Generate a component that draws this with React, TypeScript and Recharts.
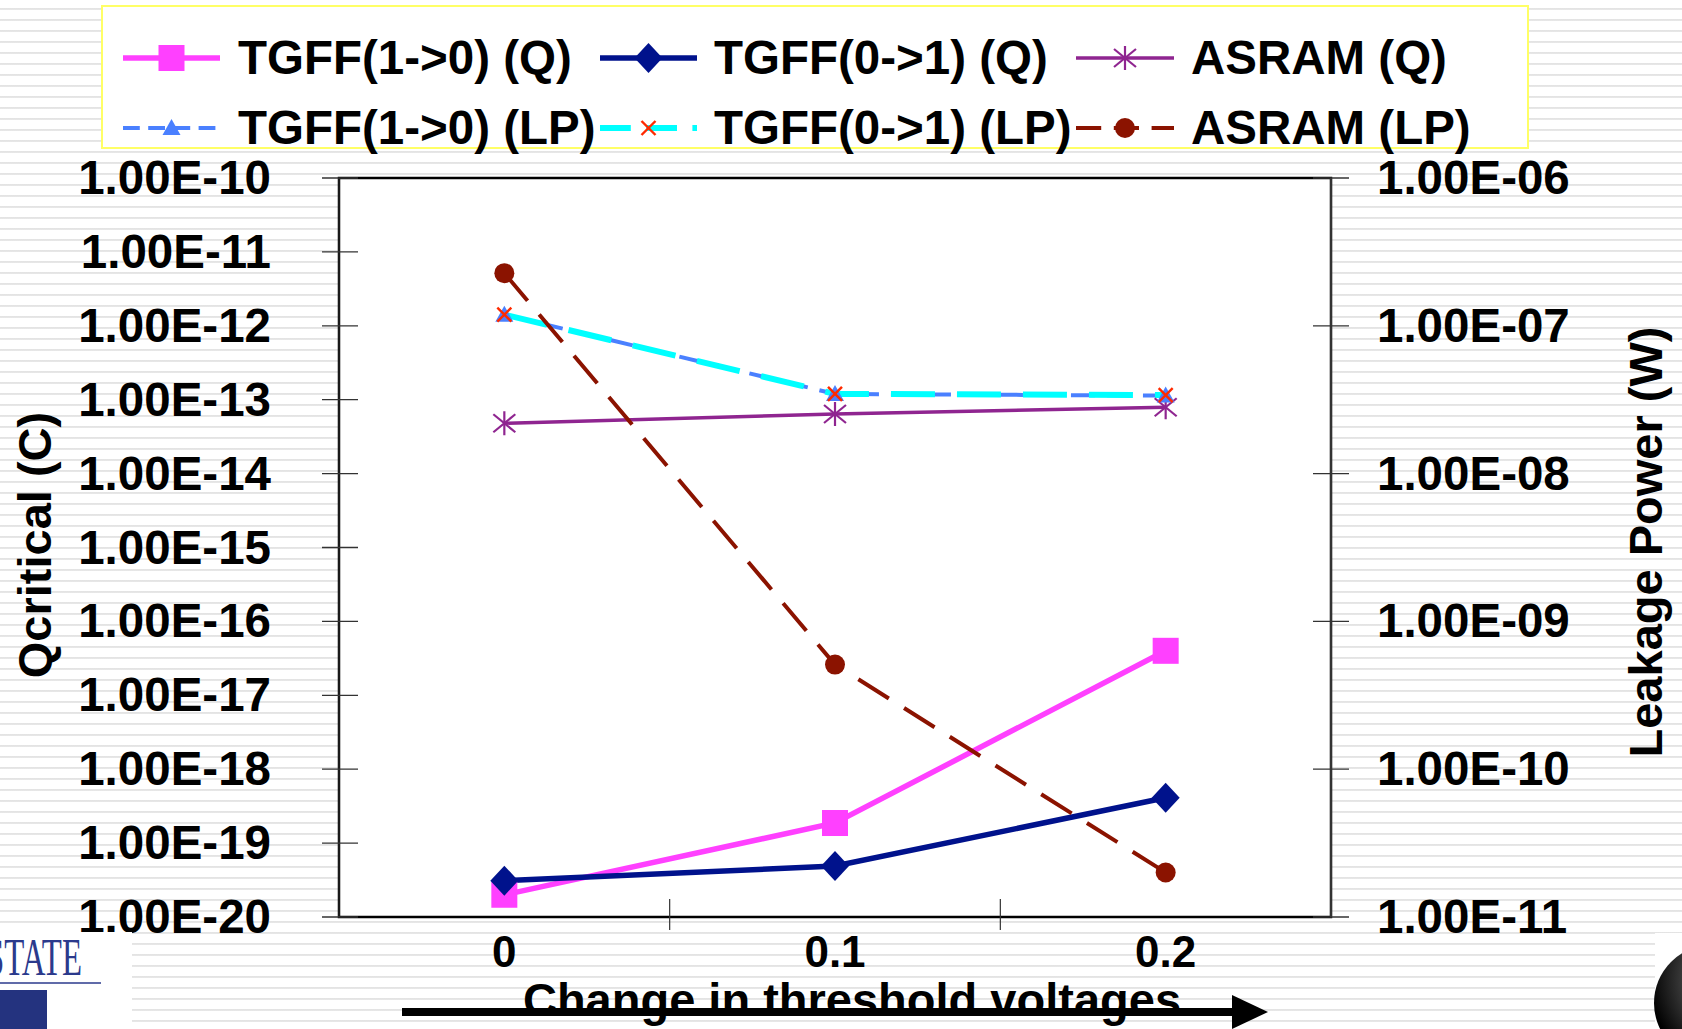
import React from 'react';
import { ComposedChart, Line, XAxis, YAxis, ReferenceArea } from 'recharts';

const FONT = '"Liberation Sans", Arial, Helvetica, sans-serif';

// ---- data ----
const categories = [0, 0.1, 0.2];
const categoryLabels = ['0', '0.1', '0.2'];
const boundaryTicks = [0.05, 0.15];
const qTicks = [1e-20, 1e-19, 1e-18, 1e-17, 1e-16, 1e-15, 1e-14, 1e-13, 1e-12, 1e-11, 1e-10];
const lpTicks = [1e-11, 1e-10, 1e-9, 1e-8, 1e-7, 1e-6];

const tgff10Q = [2.0e-20, 1.87e-19, 4.0e-17];
const tgff01Q = [3.1e-20, 4.9e-20, 4.1e-19];
const asramQ = [4.8e-14, 6.4e-14, 7.9e-14];
const tgff10LP = [1.19e-7, 3.46e-8, 3.37e-8];
const tgff01LP = [1.19e-7, 3.46e-8, 3.4e-8];
const asramLP = [2.27e-7, 5.1e-10, 2.0e-11];

const rows = categories.map((x, i) => ({
  x,
  tgff10Q: tgff10Q[i],
  tgff01Q: tgff01Q[i],
  asramQ: asramQ[i],
  tgff10LP: tgff10LP[i],
  tgff01LP: tgff01LP[i],
  asramLP: asramLP[i],
}));

type Kind = 'square' | 'diamond' | 'asterisk' | 'triangle' | 'cross' | 'circle';

const series = [
  { key: 'tgff10Q', name: 'TGFF(1->0) (Q)', axis: 'q', color: '#ff40ff', width: 5.5, dash: undefined, marker: 'square' as Kind, markerColor: '#ff40ff' },
  { key: 'tgff01Q', name: 'TGFF(0->1) (Q)', axis: 'q', color: '#00128c', width: 5.5, dash: undefined, marker: 'diamond' as Kind, markerColor: '#00128c' },
  { key: 'asramQ', name: 'ASRAM (Q)', axis: 'q', color: '#8f2590', width: 3.5, dash: undefined, marker: 'asterisk' as Kind, markerColor: '#8f2590' },
  { key: 'tgff10LP', name: 'TGFF(1->0) (LP)', axis: 'lp', color: '#4a80ff', width: 4, dash: '24 12', marker: 'triangle' as Kind, markerColor: '#4a80ff' },
  { key: 'tgff01LP', name: 'TGFF(0->1) (LP)', axis: 'lp', color: '#00ffff', width: 6, dash: '44 22', marker: 'cross' as Kind, markerColor: '#ff2a00' },
  { key: 'asramLP', name: 'ASRAM (LP)', axis: 'lp', color: '#8b1300', width: 4, dash: '36 18', marker: 'circle' as Kind, markerColor: '#8b1300' },
];

const sci = (v: number) => {
  const [m, e] = v.toExponential(2).split('e');
  const n = parseInt(e, 10);
  return `${m}E${n < 0 ? '-' : '+'}${String(Math.abs(n)).padStart(2, '0')}`;
};

function Marker({ kind, cx, cy, color }: { kind: Kind; cx: number; cy: number; color: string }) {
  if (cx == null || cy == null || isNaN(cx) || isNaN(cy)) return <g />;
  switch (kind) {
    case 'square':
      return <rect x={cx - 13} y={cy - 13} width={26} height={26} fill={color} />;
    case 'diamond':
      return <polygon points={`${cx},${cy - 15} ${cx + 14},${cy} ${cx},${cy + 15} ${cx - 14},${cy}`} fill={color} />;
    case 'asterisk':
      return (
        <g stroke={color} strokeWidth={2.2}>
          <line x1={cx} y1={cy - 12} x2={cx} y2={cy + 12} />
          <line x1={cx - 11} y1={cy - 9} x2={cx + 11} y2={cy + 9} />
          <line x1={cx - 11} y1={cy + 9} x2={cx + 11} y2={cy - 9} />
        </g>
      );
    case 'triangle':
      return <polygon points={`${cx},${cy - 9} ${cx + 9},${cy + 7} ${cx - 9},${cy + 7}`} fill={color} />;
    case 'cross':
      return (
        <g stroke={color} strokeWidth={2.4}>
          <line x1={cx - 7} y1={cy - 7} x2={cx + 7} y2={cy + 7} />
          <line x1={cx - 7} y1={cy + 7} x2={cx + 7} y2={cy - 7} />
        </g>
      );
    case 'circle':
    default:
      return <circle cx={cx} cy={cy} r={10} fill={color} />;
  }
}

const LeftTick = (props: any) => {
  const { x, y, payload } = props;
  return (
    <g>
      <line x1={x - 17} x2={x + 19} y1={y} y2={y} stroke="#333" strokeWidth={1.3} />
      <text x={x - 68} y={y + 16} textAnchor="end" fontFamily={FONT} fontWeight="bold" fontSize={47.5} fill="#000">
        {sci(payload.value)}
      </text>
    </g>
  );
};

const RightTick = (props: any) => {
  const { x, y, payload } = props;
  return (
    <g>
      <line x1={x - 18} x2={x + 18} y1={y} y2={y} stroke="#333" strokeWidth={1.3} />
      <text x={x + 46} y={y + 16} textAnchor="start" fontFamily={FONT} fontWeight="bold" fontSize={47.5} fill="#000">
        {sci(payload.value)}
      </text>
    </g>
  );
};

const XTick = (props: any) => {
  const { x, y, payload } = props;
  const v = payload.value as number;
  if (boundaryTicks.some((b) => Math.abs(b - v) < 1e-9)) {
    return <line x1={x} x2={x} y1={y - 18} y2={y + 13} stroke="#333" strokeWidth={1.2} />;
  }
  const idx = categories.findIndex((c) => Math.abs(c - v) < 1e-9);
  return (
    <text x={x} y={y + 50} textAnchor="middle" fontFamily={FONT} fontWeight="bold" fontSize={44} fill="#000">
      {idx >= 0 ? categoryLabels[idx] : ''}
    </text>
  );
};

const xTicks = [...categories, ...boundaryTicks].sort((a, b) => a - b);

const legendCols = [
  { lineX1: 123, lineX2: 220, textX: 238 },
  { lineX1: 600, lineX2: 697, textX: 714 },
  { lineX1: 1076, lineX2: 1174, textX: 1191 },
];
const legendRows = [{ lineY: 58, baseY: 74 }, { lineY: 128, baseY: 144 }];

const stripes =
  'repeating-linear-gradient(to bottom, #ffffff 0px, #ffffff 8px, #e2e2e2 8px, #e8e8e8 10px, #ffffff 10px, #ffffff 11px)';

export default function App() {
  return (
    <div style={{ position: 'fixed', left: 0, top: 0, width: 1682, height: 1029, overflow: 'hidden', background: stripes }}>
      <ComposedChart width={1682} height={1029} data={rows} margin={{ top: 178, right: 0, bottom: 0, left: 0 }}>
        <XAxis
          xAxisId="x"
          dataKey="x"
          type="number"
          domain={[-0.05, 0.25]}
          ticks={xTicks}
          interval={0}
          allowDataOverflow
          height={112}
          tick={XTick}
          tickLine={false}
          tickSize={0}
          tickMargin={0}
          axisLine={{ stroke: '#000', strokeWidth: 2 }}
        />
        <YAxis
          yAxisId="q"
          orientation="left"
          type="number"
          scale="log"
          domain={[1e-20, 1e-10]}
          ticks={qTicks}
          interval={0}
          allowDataOverflow
          width={339}
          tick={LeftTick}
          tickLine={false}
          tickSize={0}
          tickMargin={0}
          axisLine={{ stroke: '#222', strokeWidth: 1.5 }}
        />
        <YAxis
          yAxisId="lp"
          orientation="right"
          type="number"
          scale="log"
          domain={[1e-11, 1e-6]}
          ticks={lpTicks}
          interval={0}
          allowDataOverflow
          width={351}
          tick={RightTick}
          tickLine={false}
          tickSize={0}
          tickMargin={0}
          axisLine={{ stroke: '#444', strokeWidth: 1.5 }}
        />
        <ReferenceArea
          xAxisId="x"
          yAxisId="q"
          x1={-0.05}
          x2={0.25}
          y1={1e-20}
          y2={1e-10}
          fill="#ffffff"
          fillOpacity={1}
          stroke="#000"
          strokeWidth={2.5}
          ifOverflow="visible"
        />
        {series.map((s) => (
          <Line
            key={s.key}
            xAxisId="x"
            yAxisId={s.axis}
            dataKey={s.key}
            name={s.name}
            type="linear"
            stroke={s.color}
            strokeWidth={s.width}
            strokeDasharray={s.dash}
            isAnimationActive={false}
            activeDot={false}
            dot={(p: any) => <Marker key={`${s.key}-${p.index}`} kind={s.marker} cx={p.cx} cy={p.cy} color={s.markerColor} />}
          />
        ))}
      </ComposedChart>

      <svg width={1682} height={1029} style={{ position: 'absolute', left: 0, top: 0, pointerEvents: 'none' }}>
        <defs>
          <radialGradient id="ball" cx="0.75" cy="0.3" r="0.8">
            <stop offset="0" stopColor="#ffffff" />
            <stop offset="0.45" stopColor="#555555" />
            <stop offset="1" stopColor="#000000" />
          </radialGradient>
        </defs>
        {/* legend */}
        <rect x={102} y={6} width={1426} height={142} fill="#fff" stroke="#ffff66" strokeWidth={2} />
        {series.map((s, i) => {
          const col = legendCols[i % 3];
          const row = legendRows[Math.floor(i / 3)];
          const mid = (col.lineX1 + col.lineX2) / 2;
          return (
            <g key={s.key}>
              <line x1={col.lineX1} x2={col.lineX2} y1={row.lineY} y2={row.lineY} stroke={s.color} strokeWidth={s.width} strokeDasharray={s.dash ? s.dash.split(' ').map((d) => String(Number(d) * 0.7)).join(' ') : undefined} />
              <Marker kind={s.marker} cx={mid} cy={row.lineY} color={s.markerColor} />
              <text x={col.textX} y={row.baseY} fontFamily={FONT} fontWeight="bold" fontSize={47.5} fill="#000">
                {s.name}
              </text>
            </g>
          );
        })}
        {/* axis titles */}
        <text x={51} y={545} transform="rotate(-90 51 545)" textAnchor="middle" fontFamily={FONT} fontWeight="bold" fontSize={47} fill="#000">
          Qcritical (C)
        </text>
        <text x={1662} y={542} transform="rotate(-90 1662 542)" textAnchor="middle" fontFamily={FONT} fontWeight="bold" fontSize={47} fill="#000">
          Leakage Power (W)
        </text>
        <text x={852} y={1016} textAnchor="middle" fontFamily={FONT} fontWeight="bold" fontSize={47} fill="#000">
          Change in threshold voltages
        </text>
        <line x1={402} x2={1236} y1={1012} y2={1012} stroke="#000" strokeWidth={8} />
        <polygon points="1232,995 1268,1012 1232,1029" fill="#000" />
        {/* logos */}
        <rect x={0} y={932} width={132} height={97} fill="#fff" />
        <text x={-14} y={975} fontFamily='"Liberation Serif", "DejaVu Serif", serif' fontSize={52} fill="#2b3a8c" textLength={96} lengthAdjust="spacingAndGlyphs">
          STATE
        </text>
        <line x1={0} x2={101} y1={983} y2={983} stroke="#2b3a8c" strokeWidth={1.5} />
        <rect x={0} y={990} width={47} height={39} fill="#24337f" />
        <rect x={1655} y={933} width={27} height={96} fill="#fff" />
        <circle cx={1712} cy={1003} r={58} fill="url(#ball)" />
      </svg>
    </div>
  );
}
